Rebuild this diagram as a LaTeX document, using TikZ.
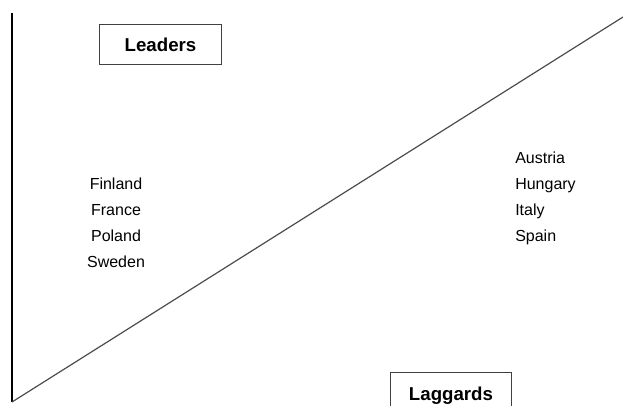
\documentclass[tikz,border=0pt]{standalone}
\usepackage{fontspec}
\setmainfont{Liberation Sans}
\usepackage{tikz}

\begin{document}
\begin{tikzpicture}[x=0.75pt,y=-0.75pt]
\tikzstyle{country}=[inner sep=0pt,font=\fontsize{12}{14}\selectfont,anchor=base]
\tikzstyle{groupbox}=[draw=black!75,line width=0.9pt,minimum width=91pt,minimum height=29.5pt,inner sep=0pt,font=\fontsize{14}{16}\selectfont\bfseries]
\clip (0,0) rectangle (623,405);
\coordinate (top) at (12,13);
\coordinate (origin) at (12,402);
\coordinate (end) at (623,17);
\draw [black,line width=2pt] (top) -- (origin);
\draw [black!70,line width=0.9pt] (origin) -- (end);
\node [groupbox] (leaders) at (160.5,44.5) {Leaders};
\node [groupbox,minimum height=35pt] (laggards) at (451,395.5) {Laggards};
\node [country] (finland) at (116,189) {Finland};
\node [country] (france) at (116,215) {France};
\node [country] (poland) at (116,241) {Poland};
\node [country] (sweden) at (116,267) {Sweden};
\node [country,anchor=base west] (austria) at (515,163) {Austria};
\node [country,anchor=base west] (hungary) at (515,189) {Hungary};
\node [country,anchor=base west] (italy) at (515,215) {Italy};
\node [country,anchor=base west] (spain) at (515,241) {Spain};
\end{tikzpicture}
\end{document}
